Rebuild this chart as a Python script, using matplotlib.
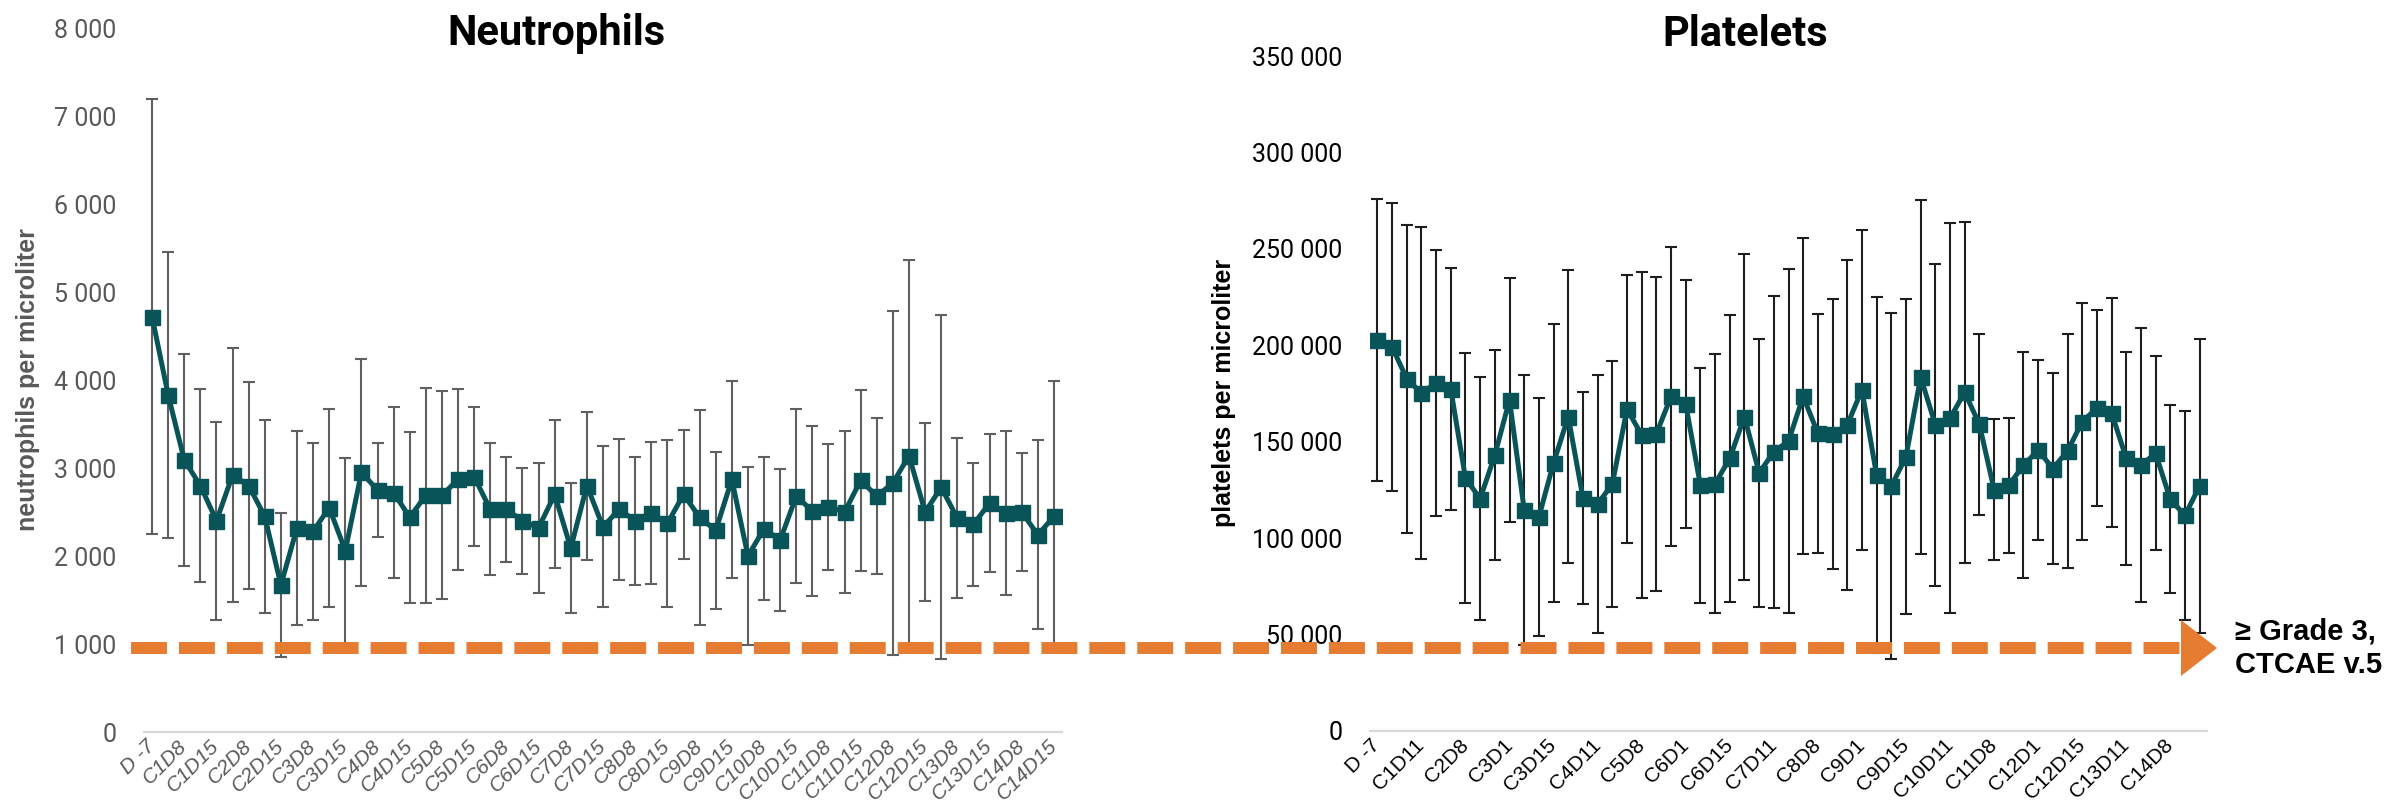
import numpy as np
import matplotlib
matplotlib.use('Agg')
import matplotlib.pyplot as plt
from matplotlib.lines import Line2D
from matplotlib.patches import Polygon
from matplotlib.ticker import FuncFormatter, MultipleLocator

# Visits: screening day, then days 1, 8, 11, 15 of cycles 1-14
visits = ['D -7'] + [f'C{c}D{d}' for c in range(1, 15) for d in (1, 8, 11, 15)]

neut_mean = [4720, 3830, 3090, 2800, 2400, 2920, 2800, 2450, 1670, 2320,
             2280, 2550, 2060, 2950, 2750, 2720, 2440, 2690, 2690, 2870,
             2900, 2530, 2530, 2400, 2320, 2700, 2090, 2800, 2330, 2530,
             2400, 2490, 2370, 2700, 2440, 2290, 2870, 2000, 2310, 2180,
             2680, 2510, 2560, 2500, 2860, 2680, 2830, 3140, 2500, 2780,
             2430, 2360, 2600, 2490, 2500, 2240, 2450]
neut_sd = [2470, 1630, 1200, 1100, 1125, 1440, 1175, 1100, 820, 1100,
           1005, 1125, 1050, 1290, 530, 975, 970, 1220, 1180, 1030,
           790, 750, 595, 600, 740, 840, 735, 840, 915, 800,
           725, 805, 945, 730, 1220, 890, 1120, 1010, 815, 810,
           985, 970, 715, 915, 1030, 885, 1950, 2225, 1015, 1955,
           910, 700, 785, 935, 675, 1075, 1540]

plt_mean = [202700, 199200, 182700, 175200, 180400, 177300, 131200, 120400, 143000, 171700,
            114700, 110900, 139000, 163000, 120900, 117800, 127900, 166900, 153500, 154000,
            173500, 169500, 127400, 128300, 141300, 163000, 133800, 144800, 150300, 173500,
            154300, 154000, 158700, 176900, 132600, 126900, 142200, 183600, 158700, 162200,
            175600, 159000, 125100, 127400, 137800, 145600, 136100, 145100, 160400, 167400,
            165100, 141300, 138000, 143900, 120100, 111800, 127100]
plt_sd = [73300, 74800, 79900, 86000, 68900, 62600, 65000, 63000, 54300, 63300,
          70000, 61600, 72100, 75900, 54800, 67000, 63700, 69600, 84700, 81600,
          77600, 64300, 60900, 67000, 74500, 84500, 69600, 80900, 89200, 81900,
          61900, 69800, 85600, 83000, 92200, 89600, 81700, 91700, 83300, 101000,
          88500, 46900, 36500, 35000, 58500, 46700, 49600, 60700, 61600, 50900,
          59200, 55200, 71100, 50300, 48700, 54000, 76100]

TEAL = '#085458'
ORANGE = '#E57C32'
W, H = 2390, 808

plt.rcParams['lines.scale_dashes'] = False


def fx(px):
    return px / W


def fy(py):
    return 1 - py / H


def space_thousands(v, _):
    return f'{int(round(v)):,}'.replace(',', ' ')


def draw_panel(ax, mean, sd, ymax, step, every, bar_color, text_color, style):
    x = np.arange(len(visits))
    ax.errorbar(x, mean, yerr=sd, fmt='none', ecolor=bar_color,
                elinewidth=1.5, capsize=4.2, capthick=1.5, zorder=2)
    ax.plot(x, mean, color=TEAL, lw=3.6, marker='s', ms=10.8, zorder=3)
    ax.set_xlim(-0.5, len(x) - 0.5)
    ax.set_ylim(0, ymax)
    ax.yaxis.set_major_locator(MultipleLocator(step))
    ax.yaxis.set_major_formatter(FuncFormatter(space_thousands))
    for side in ('left', 'right', 'top'):
        ax.spines[side].set_visible(False)
    ax.spines['bottom'].set_color('#d9d9d9')
    ax.spines['bottom'].set_linewidth(1.6)
    ax.tick_params(axis='both', length=0)
    ax.tick_params(axis='y', pad=20, labelsize=18, labelcolor=text_color)
    ax.tick_params(axis='x', pad=8)
    for lab in ax.get_yticklabels():
        lab.set_family('Roboto')
    ax.set_xticks(x[::every])
    ax.set_xticklabels(visits[::every], rotation=45, ha='right', va='center',
                       rotation_mode='anchor', fontsize=15, color=text_color,
                       style=style, family='Liberation Sans')


fig = plt.figure(figsize=(W / 100, H / 100), dpi=100)

ax1 = fig.add_axes([fx(144), fy(732), fx(1062) - fx(144), (732 - 28) / H])
draw_panel(ax1, neut_mean, neut_sd, 8000, 1000, 2, '#5f5f5f', '#595959', 'italic')

ax2 = fig.add_axes([fx(1370), fy(731), fx(2207) - fx(1370), (731 - 56) / H])
draw_panel(ax2, plt_mean, plt_sd, 350000, 50000, 3, '#1e1e1e', 'black', 'normal')

fig.text(fx(556), fy(34), 'Neutrophils', ha='center', va='center',
         fontsize=30, fontweight='bold', family='Roboto')
fig.text(fx(1745), fy(34), 'Platelets', ha='center', va='center',
         fontsize=30, fontweight='bold', family='Roboto')

fig.text(fx(28), fy(380), 'neutrophils per microliter', rotation=90,
         ha='center', va='center', fontsize=18, fontweight='bold',
         color='#595959', family='Liberation Sans')
fig.text(fx(1224), fy(393), 'platelets per microliter', rotation=90,
         ha='center', va='center', fontsize=18, fontweight='bold',
         color='black', family='Liberation Sans')

# Grade 3 threshold: dashed line spanning both panels, ending in an arrow head
line_y = 648
fig.add_artist(Line2D([fx(131), fx(2184)], [fy(line_y), fy(line_y)],
                      color=ORANGE, lw=8.6, dashes=(25.9, 8.6),
                      solid_capstyle='butt', dash_capstyle='butt', zorder=5))
fig.add_artist(Polygon([[fx(2181), fy(line_y - 28)], [fx(2217), fy(line_y)],
                        [fx(2181), fy(line_y + 28)]], closed=True,
                       facecolor=ORANGE, edgecolor='none', zorder=5))
fig.text(fx(2235), fy(line_y), '\u2265 Grade 3,\nCTCAE v.5', ha='left',
         va='center', fontsize=21, fontweight='bold', linespacing=1.25,
         family='Liberation Sans')

fig.savefig('out.png', dpi=100)
